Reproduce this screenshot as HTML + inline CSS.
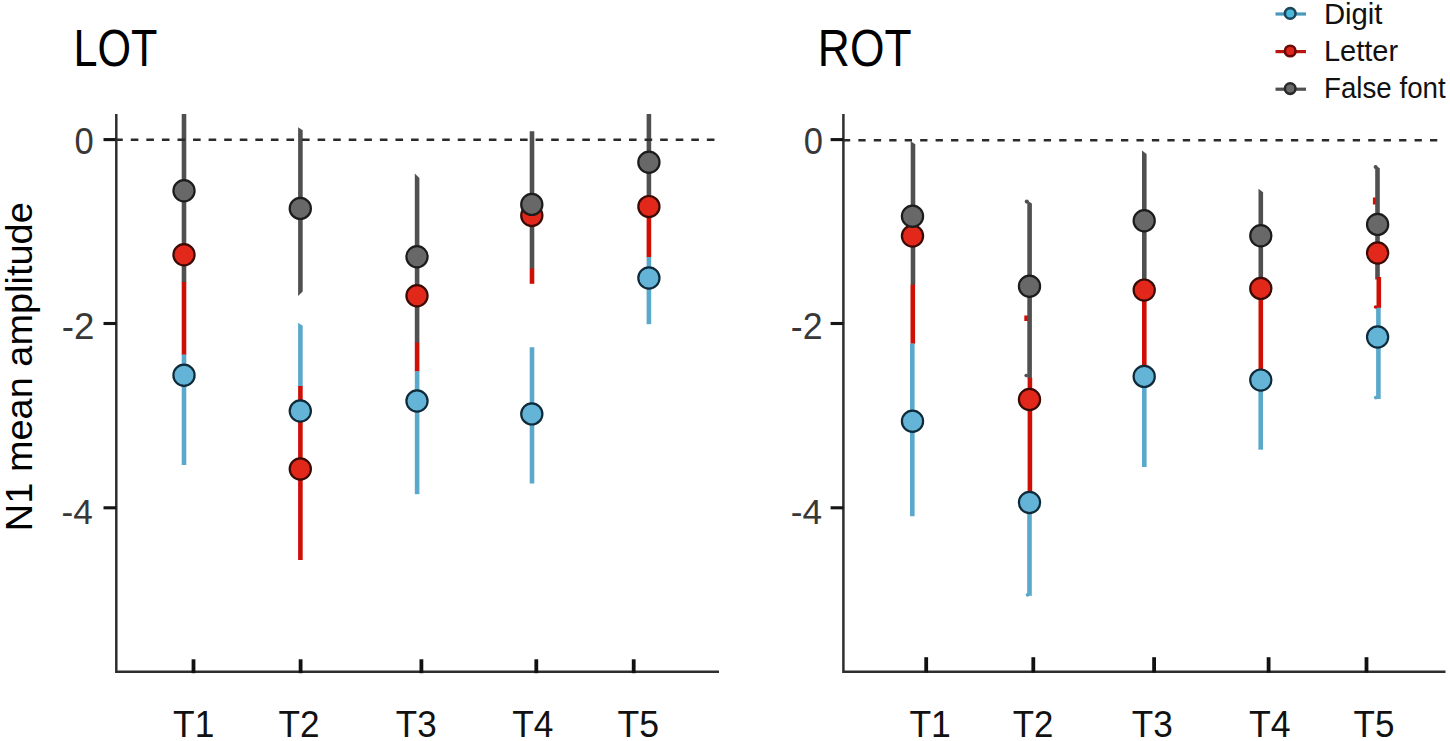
<!DOCTYPE html><html><head><meta charset="utf-8"><title>N1 mean amplitude LOT ROT</title><style>
html,body{margin:0;padding:0;background:#fff;}body{width:1450px;height:741px;overflow:hidden;}
svg{display:block;}text{font-family:"Liberation Sans",sans-serif;}
</style></head><body>
<svg width="1450" height="741" viewBox="0 0 1450 741">
<rect width="1450" height="741" fill="#fff"/>
<text transform="translate(73.44,65.90) scale(0.8452,1)" font-size="51.05" fill="#000" >LOT</text>
<text transform="translate(817.84,65.90) scale(0.8694,1)" font-size="51.05" fill="#000" >ROT</text>
<text transform="translate(31.8,531.13) rotate(-90) scale(1.0338,1)" font-size="36.7" fill="#000">N1 mean amplitude</text>
<path d="M116.3 114 V671.8 H719" fill="none" stroke="#2e2e2e" stroke-width="2.5"/>
<line x1="103.5" y1="139.6" x2="116.3" y2="139.6" stroke="#151515" stroke-width="3.1" />
<line x1="103.5" y1="323.5" x2="116.3" y2="323.5" stroke="#151515" stroke-width="3.1" />
<line x1="103.5" y1="507.8" x2="116.3" y2="507.8" stroke="#151515" stroke-width="3.1" />
<line x1="193.5" y1="659.3" x2="193.5" y2="673.2" stroke="#111" stroke-width="3.8" />
<line x1="300.6" y1="659.3" x2="300.6" y2="673.2" stroke="#111" stroke-width="3.8" />
<line x1="421.4" y1="659.3" x2="421.4" y2="673.2" stroke="#111" stroke-width="3.8" />
<line x1="536.3" y1="659.3" x2="536.3" y2="673.2" stroke="#111" stroke-width="3.8" />
<line x1="633.7" y1="659.3" x2="633.7" y2="673.2" stroke="#111" stroke-width="3.8" />
<path d="M843.4 114 V671.8 H1445.5" fill="none" stroke="#2e2e2e" stroke-width="2.5"/>
<line x1="830.6" y1="139.6" x2="843.4" y2="139.6" stroke="#151515" stroke-width="3.1" />
<line x1="830.6" y1="323.5" x2="843.4" y2="323.5" stroke="#151515" stroke-width="3.1" />
<line x1="830.6" y1="507.8" x2="843.4" y2="507.8" stroke="#151515" stroke-width="3.1" />
<line x1="926.2" y1="657.2" x2="926.2" y2="672.6" stroke="#111" stroke-width="3.8" />
<line x1="1033.3" y1="657.2" x2="1033.3" y2="672.6" stroke="#111" stroke-width="3.8" />
<line x1="1154.1" y1="657.2" x2="1154.1" y2="672.6" stroke="#111" stroke-width="3.8" />
<line x1="1268.6" y1="657.2" x2="1268.6" y2="672.6" stroke="#111" stroke-width="3.8" />
<line x1="1366.5" y1="657.2" x2="1366.5" y2="672.6" stroke="#111" stroke-width="3.8" />
<text transform="translate(74.62,153.90) scale(0.9599,1)" font-size="36.00" fill="#383838" >0</text>
<text transform="translate(61.65,338.70) scale(1.0203,1)" font-size="36.00" fill="#383838" >-2</text>
<text transform="translate(61.52,523.50) scale(0.9782,1)" font-size="36.00" fill="#383838" >-4</text>
<text transform="translate(803.82,153.90) scale(0.9599,1)" font-size="36.00" fill="#383838" >0</text>
<text transform="translate(790.79,338.70) scale(0.9923,1)" font-size="36.00" fill="#383838" >-2</text>
<text transform="translate(790.72,523.50) scale(0.9782,1)" font-size="36.00" fill="#383838" >-4</text>
<text transform="translate(173.10,736.90) scale(0.9529,1)" font-size="37.09" fill="#111" >T1</text>
<text transform="translate(278.51,736.90) scale(0.9479,1)" font-size="37.09" fill="#111" >T2</text>
<text transform="translate(395.81,736.90) scale(0.9436,1)" font-size="37.09" fill="#111" >T3</text>
<text transform="translate(512.31,736.90) scale(0.9503,1)" font-size="37.09" fill="#111" >T4</text>
<text transform="translate(617.40,736.90) scale(0.9611,1)" font-size="37.09" fill="#111" >T5</text>
<text transform="translate(909.40,736.90) scale(0.9578,1)" font-size="37.09" fill="#111" >T1</text>
<text transform="translate(1012.82,736.90) scale(0.9381,1)" font-size="37.09" fill="#111" >T2</text>
<text transform="translate(1131.71,736.90) scale(0.9485,1)" font-size="37.09" fill="#111" >T3</text>
<text transform="translate(1248.90,736.90) scale(0.9624,1)" font-size="37.09" fill="#111" >T4</text>
<text transform="translate(1353.61,736.90) scale(0.9464,1)" font-size="37.09" fill="#111" >T5</text>
<polygon points="1024.30,315.50 1028.90,315.50 1028.90,321.00 1024.30,321.00" fill="#cf0e05"/>
<polygon points="1372.90,197.50 1377.50,197.50 1377.50,204.50 1372.90,204.50" fill="#cf0e05"/>
<polygon points="181.70,114.00 186.30,114.00 186.30,282.50 181.70,282.50" fill="#505050"/>
<polygon points="181.70,282.00 186.30,282.00 186.30,354.90 181.70,354.90" fill="#cf0e05"/>
<polygon points="181.70,354.50 186.30,354.50 186.30,465.00 181.70,465.00" fill="#5aa8cb"/>
<polygon points="298.10,127.30 302.70,130.30 302.70,291.60 298.10,296.10" fill="#505050"/>
<polygon points="298.10,322.80 302.70,325.80 302.70,386.50 298.10,386.50" fill="#5aa8cb"/>
<polygon points="298.10,386.00 302.70,386.00 302.70,560.00 298.10,560.00" fill="#cf0e05"/>
<polygon points="414.80,173.50 419.40,178.00 419.40,343.00 414.80,343.00" fill="#505050"/>
<polygon points="414.80,342.60 419.40,342.60 419.40,371.60 414.80,371.60" fill="#cf0e05"/>
<polygon points="414.80,371.20 419.40,371.20 419.40,494.20 414.80,494.20" fill="#5aa8cb"/>
<polygon points="529.70,131.30 534.30,131.30 534.30,269.00 529.70,269.00" fill="#505050"/>
<polygon points="529.70,268.60 534.30,268.60 534.30,283.80 529.70,283.80" fill="#cf0e05"/>
<polygon points="529.70,347.30 534.30,347.30 534.30,483.50 529.70,483.50" fill="#5aa8cb"/>
<polygon points="646.60,114.00 651.20,114.00 651.20,206.00 646.60,206.00" fill="#505050"/>
<polygon points="646.60,206.00 651.20,206.00 651.20,257.40 646.60,257.40" fill="#cf0e05"/>
<polygon points="646.60,257.00 651.20,257.00 651.20,324.20 646.60,324.20" fill="#5aa8cb"/>
<polygon points="910.70,141.20 915.30,144.20 915.30,285.00 910.70,285.00" fill="#505050"/>
<polygon points="910.50,284.70 915.10,284.70 915.10,343.80 910.50,343.80" fill="#cf0e05"/>
<polygon points="910.00,343.40 914.60,343.40 914.60,516.30 910.00,516.30" fill="#5aa8cb"/>
<polygon points="1027.30,200.50 1031.90,203.50 1031.90,378.20 1027.30,378.20" fill="#505050"/>
<polygon points="1027.60,377.90 1032.20,377.90 1032.20,500.00 1027.60,500.00" fill="#cf0e05"/>
<polygon points="1027.20,500.00 1031.80,500.00 1031.80,595.80 1027.20,595.80" fill="#5aa8cb"/>
<polygon points="1142.00,150.50 1146.60,153.90 1146.60,290.00 1142.00,290.00" fill="#505050"/>
<polygon points="1142.00,290.00 1146.60,290.00 1146.60,376.00 1142.00,376.00" fill="#cf0e05"/>
<polygon points="1142.00,376.00 1146.60,376.00 1146.60,467.00 1142.00,467.00" fill="#5aa8cb"/>
<polygon points="1258.50,188.80 1263.10,192.20 1263.10,288.40 1258.50,288.40" fill="#505050"/>
<polygon points="1258.50,288.40 1263.10,288.40 1263.10,380.00 1258.50,380.00" fill="#cf0e05"/>
<polygon points="1258.40,380.00 1263.00,380.00 1263.00,449.70 1258.40,449.70" fill="#5aa8cb"/>
<polygon points="1375.20,165.30 1379.80,168.30 1379.80,279.50 1375.20,279.50" fill="#505050"/>
<polygon points="1376.50,277.00 1381.10,277.00 1381.10,308.00 1376.50,308.00" fill="#cf0e05"/>
<polygon points="1376.10,307.60 1380.70,307.60 1380.70,399.00 1376.10,399.00" fill="#5aa8cb"/>
<circle cx="1026.8" cy="201.6" r="2.1" fill="#505050"/>
<circle cx="1375.6" cy="167.0" r="2.0" fill="#505050"/>
<circle cx="1375.8" cy="397.6" r="1.9" fill="#5aa8cb"/>
<circle cx="1027.6" cy="594.8" r="1.9" fill="#5aa8cb"/>
<circle cx="1375.6" cy="307.0" r="1.8" fill="#cf0e05"/>
<circle cx="1026.2" cy="375.5" r="1.8" fill="#505050"/>
<line x1="115.2" y1="139.7" x2="715.2" y2="139.7" stroke="#2a2a2a" stroke-width="2.6" stroke-dasharray="7.6 7.97"/>
<line x1="842.9" y1="140.3" x2="1442.4" y2="140.3" stroke="#2a2a2a" stroke-width="2.6" stroke-dasharray="7.3 8.15"/>
<circle cx="184.0" cy="375.2" r="10.6" fill="#64b4d7" stroke="#0f2b3a" stroke-width="2.2"/>
<circle cx="300.3" cy="411.0" r="10.6" fill="#64b4d7" stroke="#0f2b3a" stroke-width="2.2"/>
<circle cx="417.0" cy="401.0" r="10.6" fill="#64b4d7" stroke="#0f2b3a" stroke-width="2.2"/>
<circle cx="531.8" cy="413.9" r="10.6" fill="#64b4d7" stroke="#0f2b3a" stroke-width="2.2"/>
<circle cx="648.9" cy="278.0" r="10.6" fill="#64b4d7" stroke="#0f2b3a" stroke-width="2.2"/>
<circle cx="912.5" cy="421.2" r="10.6" fill="#64b4d7" stroke="#0f2b3a" stroke-width="2.2"/>
<circle cx="1029.5" cy="502.5" r="10.6" fill="#64b4d7" stroke="#0f2b3a" stroke-width="2.2"/>
<circle cx="1144.2" cy="376.4" r="10.6" fill="#64b4d7" stroke="#0f2b3a" stroke-width="2.2"/>
<circle cx="1260.8" cy="380.1" r="10.6" fill="#64b4d7" stroke="#0f2b3a" stroke-width="2.2"/>
<circle cx="1377.6" cy="337.0" r="10.6" fill="#64b4d7" stroke="#0f2b3a" stroke-width="2.2"/>
<circle cx="184.0" cy="254.8" r="10.6" fill="#e2281b" stroke="#3a0a05" stroke-width="2.2"/>
<circle cx="300.3" cy="469.0" r="10.6" fill="#e2281b" stroke="#3a0a05" stroke-width="2.2"/>
<circle cx="417.0" cy="295.8" r="10.6" fill="#e2281b" stroke="#3a0a05" stroke-width="2.2"/>
<circle cx="531.8" cy="215.5" r="10.6" fill="#e2281b" stroke="#3a0a05" stroke-width="2.2"/>
<circle cx="648.9" cy="206.6" r="10.6" fill="#e2281b" stroke="#3a0a05" stroke-width="2.2"/>
<circle cx="912.5" cy="236.0" r="10.6" fill="#e2281b" stroke="#3a0a05" stroke-width="2.2"/>
<circle cx="1029.5" cy="399.5" r="10.6" fill="#e2281b" stroke="#3a0a05" stroke-width="2.2"/>
<circle cx="1144.2" cy="290.1" r="10.6" fill="#e2281b" stroke="#3a0a05" stroke-width="2.2"/>
<circle cx="1260.8" cy="288.4" r="10.6" fill="#e2281b" stroke="#3a0a05" stroke-width="2.2"/>
<circle cx="1377.6" cy="253.0" r="10.6" fill="#e2281b" stroke="#3a0a05" stroke-width="2.2"/>
<circle cx="184.0" cy="190.7" r="10.6" fill="#686868" stroke="#1c1c1c" stroke-width="2.2"/>
<circle cx="300.3" cy="208.4" r="10.6" fill="#686868" stroke="#1c1c1c" stroke-width="2.2"/>
<circle cx="417.0" cy="256.8" r="10.6" fill="#686868" stroke="#1c1c1c" stroke-width="2.2"/>
<circle cx="531.8" cy="204.4" r="10.6" fill="#686868" stroke="#1c1c1c" stroke-width="2.2"/>
<circle cx="648.9" cy="162.3" r="10.6" fill="#686868" stroke="#1c1c1c" stroke-width="2.2"/>
<circle cx="912.5" cy="216.2" r="10.6" fill="#686868" stroke="#1c1c1c" stroke-width="2.2"/>
<circle cx="1029.5" cy="286.3" r="10.6" fill="#686868" stroke="#1c1c1c" stroke-width="2.2"/>
<circle cx="1144.2" cy="220.7" r="10.6" fill="#686868" stroke="#1c1c1c" stroke-width="2.2"/>
<circle cx="1260.8" cy="235.8" r="10.6" fill="#686868" stroke="#1c1c1c" stroke-width="2.2"/>
<circle cx="1377.6" cy="224.4" r="10.6" fill="#686868" stroke="#1c1c1c" stroke-width="2.2"/>
<line x1="1275.5" y1="14.0" x2="1306" y2="14.0" stroke="#4a98bd" stroke-width="3.2" />
<circle cx="1290.2" cy="13.4" r="5.3" fill="#4ab8dc" stroke="#1c4658" stroke-width="2.6"/>
<text transform="translate(1323.88,23.80) scale(1.0180,1)" font-size="28.80" fill="#111" >Digit</text>
<line x1="1275.5" y1="51.6" x2="1306" y2="51.6" stroke="#b81410" stroke-width="3.2" />
<circle cx="1290.2" cy="51.0" r="5.3" fill="#e0261a" stroke="#6a0a08" stroke-width="2.6"/>
<text transform="translate(1323.91,61.40) scale(1.0074,1)" font-size="28.80" fill="#111" >Letter</text>
<line x1="1275.5" y1="89.2" x2="1306" y2="89.2" stroke="#505050" stroke-width="3.2" />
<circle cx="1290.2" cy="88.60000000000001" r="5.3" fill="#6a6a6a" stroke="#2a2a2a" stroke-width="2.6"/>
<text transform="translate(1324.01,97.90) scale(0.9620,1)" font-size="28.80" fill="#111" >False font</text>
</svg></body></html>
